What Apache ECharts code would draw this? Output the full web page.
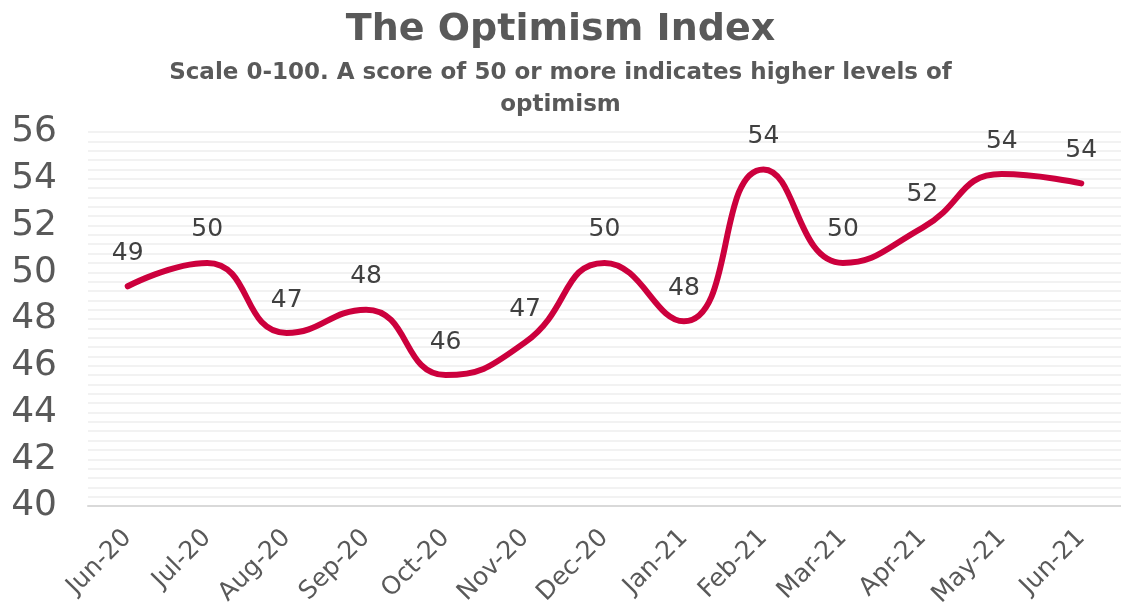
<!DOCTYPE html>
<html>
<head>
<meta charset="utf-8">
<script src="https://cdn.jsdelivr.net/npm/echarts@6/dist/echarts.min.js"></script>
<style>
  html, body { margin: 0; padding: 0; background: #fff; }
  #main { width: 1121px; height: 613px; }
</style>
</head>
<body>
<div id="main"></div>
<script>
// months and index values
var months = ['Jun-20', 'Jul-20', 'Aug-20', 'Sep-20', 'Oct-20', 'Nov-20', 'Dec-20',
              'Jan-21', 'Feb-21', 'Mar-21', 'Apr-21', 'May-21', 'Jun-21'];
var optimism = [49.4, 50.4, 47.4, 48.4, 45.6, 47.0, 50.4, 47.9, 54.4, 50.4, 51.9, 54.2, 53.8];

var titleText = 'The Optimism Index';
var subText = 'Scale 0-100. A score of 50 or more indicates higher levels of\noptimism';

var font = 'DejaVu Sans';
var myChart = echarts.init(document.getElementById('main'));

var option = {
    animation: false,
    backgroundColor: '#fff',
    title: {
        text: titleText,
        subtext: subText,
        left: 'center',
        top: 6,
        itemGap: 8,
        textStyle: {
            fontFamily: font, fontWeight: 'bold', fontSize: 38, color: '#595959'
        },
        subtextStyle: {
            fontFamily: font, fontWeight: 'bold', fontSize: 23, color: '#595959',
            lineHeight: 32
        }
    },
    grid: {
        left: 88,
        right: -9,
        top: 132,
        bottom: 107
    },
    xAxis: {
        type: 'category',
        data: months,
        boundaryGap: true,
        axisLine: { lineStyle: { color: '#d9d9d9', width: 2 } },
        axisTick: { show: false },
        axisLabel: {
            rotate: 45,
            margin: 28,
            interval: 0,
            fontFamily: font,
            fontSize: 25,
            color: '#595959'
        }
    },
    yAxis: {
        type: 'value',
        min: 40,
        max: 56,
        interval: 2,
        axisLine: { show: false },
        axisTick: { show: false },
        axisLabel: {
            margin: 31,
            fontFamily: font,
            fontSize: 36,
            color: '#595959'
        },
        splitLine: { lineStyle: { color: '#f2f2f2', width: 2 } },
        minorTick: { show: false, splitNumber: 5 },
        minorSplitLine: { show: true, lineStyle: { color: '#f2f2f2', width: 2 } }
    },
    series: [{
        name: 'Optimism',
        type: 'line',
        data: optimism,
        smooth: 0.5,
        symbol: 'circle',
        symbolSize: 1,
        showSymbol: true,
        itemStyle: { color: 'rgba(0,0,0,0)' },
        lineStyle: { color: '#cc003d', width: 6, cap: 'round' },
        label: {
            show: true,
            position: 'top',
            distance: 20,
            fontFamily: font,
            fontSize: 25,
            color: '#404040',
            formatter: function (p) { return Math.round(p.value); }
        }
    }]
};

myChart.setOption(option);
</script>
</body>
</html>
